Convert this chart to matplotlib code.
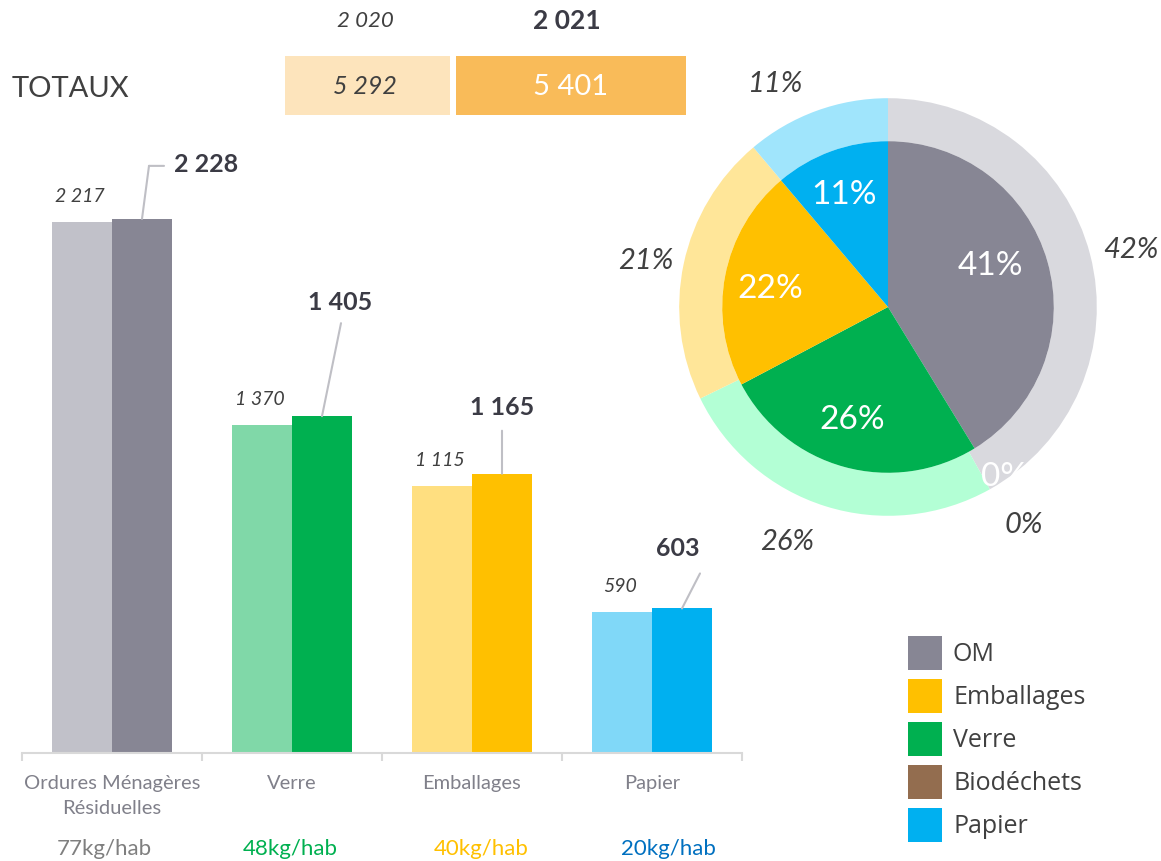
import math
import matplotlib
matplotlib.use("Agg")
import matplotlib.pyplot as plt
from matplotlib.patches import Rectangle, Patch
from matplotlib.transforms import Affine2D

plt.rcParams['font.family'] = ['Lato', 'DejaVu Sans']

# ---------------- data ----------------
categories = ["Ordures Ménagères\nRésiduelles", "Verre", "Emballages", "Papier"]
values_2020 = [2217, 1370, 1115, 590]
values_2021 = [2228, 1405, 1165, 603]
kg_hab = ["77kg/hab", "48kg/hab", "40kg/hab", "20kg/hab"]
year_labels = ["2 020", "2 021"]

pie_labels = ["OM", "Biodéchets", "Verre", "Emballages", "Papier"]
pie_2020 = [2217, 0, 1370, 1115, 590]
pie_2021 = [2228, 0, 1405, 1165, 603]
legend_labels = ["OM", "Emballages", "Verre", "Biodéchets", "Papier"]

# ---------------- styles ----------------
c_light = ["#c1c1c9", "#80d8a8", "#ffdf80", "#80d8f8"]
c_dark = ["#878694", "#00b050", "#ffc000", "#00b0f0"]
kg_colors = ["#7f7f7f", "#00b050", "#ffc000", "#0070c0"]
kg_nudge = [-8, -2, 9, 16]
pie_dark = {"OM": "#878694", "Biodéchets": "#936d4f", "Verre": "#00b050",
            "Emballages": "#ffc000", "Papier": "#00b0f0"}
pie_light = {"OM": "#d9d9de", "Biodéchets": "#c9b29f", "Verre": "#b3ffd5",
             "Emballages": "#ffe699", "Papier": "#a0e5fc"}
# label nudges in screen pixels (x right, y down)
outer_nudge = {"OM": (0, 6), "Biodéchets": (14, -1), "Verre": (-26, -4),
               "Emballages": (3, 6), "Papier": (-27, 12)}
inner_nudge = {"OM": (-9, -10), "Biodéchets": (10, -2), "Verre": (-5, 1),
               "Emballages": (-4, 4), "Papier": (-4, -3)}
txt = "#404040"
W, H = 1161, 861


def fmt(v):
    return f"{v:,}".replace(",", " ")


fig = plt.figure(figsize=(W / 100, H / 100), dpi=100)

# ---------------- bar chart ----------------
ax = fig.add_axes([22 / W, (H - 753) / H, 720 / W, (753 - 140) / H])
n = len(categories)
x = list(range(n))
bw = 1 / 3
ax.bar([i - bw / 2 for i in x], values_2020, width=bw, color=c_light, linewidth=0)
ax.bar([i + bw / 2 for i in x], values_2021, width=bw, color=c_dark, linewidth=0)
ax.set_xlim(-0.5, n - 0.5)
ax.set_ylim(0, 2557)
for s in ["top", "right", "left"]:
    ax.spines[s].set_visible(False)
ax.spines["bottom"].set_color("#d9d9d9")
ax.spines["bottom"].set_linewidth(1.5)
ax.set_yticks([])
ax.set_xticks([i - 0.5 for i in range(n + 1)])
ax.set_xticklabels([""] * (n + 1))
ax.tick_params(axis="x", which="major", length=6, width=1.5, color="#d9d9d9")
ax.set_xticks(x, minor=True)
ax.set_xticklabels(categories, minor=True, fontsize=14.5, color="#80808a",
                   linespacing=1.55)
ax.tick_params(axis="x", which="minor", length=0, pad=16)

for i, v in enumerate(values_2020):
    ax.annotate(fmt(v), xy=(i - bw / 2, v), xytext=(-2, 25),
                textcoords="offset pixels", ha="center", va="center",
                fontsize=14, style="italic", color=txt)

label_off = [(32, 54, "left"), (18, 114, "center"), (0, 66, "center"), (-4, 60, "center")]
line_off = [[(7, 53), (22, 53)], [(19, 93)], [(0, 43)], [(18, 35)]]
for i, v in enumerate(values_2021):
    dx, dy, ha = label_off[i]
    ax.annotate(fmt(v), xy=(i + bw / 2, v), xytext=(dx, dy),
                textcoords="offset pixels", ha=ha, va="center",
                fontsize=18, fontweight="bold", color="#3b3b45")
    pts = [(0, 0)] + line_off[i]
    for (x0, y0), (x1, y1) in zip(pts[:-1], pts[1:]):
        ax.annotate("", xy=(i + bw / 2, v),
                    xycoords=ax.transData + Affine2D().translate(x0, y0),
                    xytext=(x1 - x0, y1 - y0), textcoords="offset pixels",
                    arrowprops=dict(arrowstyle="-", color="#bfbfc5", lw=1.5,
                                    shrinkA=0, shrinkB=0))
for i, lab in enumerate(kg_hab):
    ax.annotate(lab, xy=(i, 0), xytext=(kg_nudge[i], -96), textcoords="offset pixels",
                ha="center", va="center", fontsize=16, color=kg_colors[i])

# ---------------- totals table ----------------
tot20 = sum(values_2020)
tot21 = sum(values_2021)
fig.text(12 / W, 1 - 89 / H, "TOTAUX", fontsize=21, color=txt, ha="left", va="center")
fig.text(365 / W, 1 - 21 / H, year_labels[0], fontsize=16, style="italic", color=txt,
         ha="center", va="center")
fig.text(567 / W, 1 - 21 / H, year_labels[1], fontsize=19, fontweight="bold", color="#3b3b45",
         ha="center", va="center")
fig.add_artist(Rectangle((285 / W, 1 - 115 / H), 165 / W, 59 / H,
                         transform=fig.transFigure, color="#fde4bc", lw=0))
fig.add_artist(Rectangle((456 / W, 1 - 115 / H), 230 / W, 59 / H,
                         transform=fig.transFigure, color="#f9bb59", lw=0))
fig.text(365 / W, 1 - 87 / H, fmt(tot20), fontsize=18, style="italic", color=txt,
         ha="center", va="center")
fig.text(571 / W, 1 - 87 / H, fmt(tot21), fontsize=21, color="white",
         ha="center", va="center")

# ---------------- donut ----------------
R = 261
pax = fig.add_axes([(888 - R) / W, (H - 307 - R) / H, 2 * R / W, 2 * R / H])
pax.set_xlim(-1.25, 1.25)
pax.set_ylim(-1.25, 1.25)
pax.set_aspect("equal")
pax.axis("off")
upp = 2.5 / (2 * R)  # data units per pixel

wedges_o, _, at_o = pax.pie(pie_2020, radius=1.0,
                            colors=[pie_light[k] for k in pie_labels],
                            startangle=90, counterclock=False,
                            wedgeprops=dict(width=0.206, linewidth=0),
                            autopct="%.0f%%", pctdistance=1.2,
                            textprops=dict(fontsize=21, style="italic", color=txt))
r_in = 0.794
wedges_i, _, at_i = pax.pie(pie_2021, radius=r_in,
                            colors=[pie_dark[k] for k in pie_labels],
                            startangle=90, counterclock=False,
                            wedgeprops=dict(linewidth=0),
                            autopct="%.0f%%", pctdistance=0.7,
                            textprops=dict(fontsize=24, color="white"))
for w, t, v in zip(wedges_i, at_i, pie_2021):
    if v == 0:
        th = math.radians((w.theta1 + w.theta2) / 2)
        t.set_position((1.22 * r_in * math.cos(th), 1.22 * r_in * math.sin(th)))
for texts, nudges in ((at_o, outer_nudge), (at_i, inner_nudge)):
    for k, t in zip(pie_labels, texts):
        px, py = t.get_position()
        dx, dy = nudges[k]
        t.set_position((px + dx * upp, py - dy * upp))

# ---------------- legend ----------------
handles = [Patch(facecolor=pie_dark[k], edgecolor="none") for k in legend_labels]
fig.legend(handles, legend_labels, loc="upper left",
           bbox_to_anchor=(908 / W, 1 - 636 / H), frameon=False,
           prop=dict(family=["Open Sans", "DejaVu Sans"], size=18),
           labelcolor=txt, handlelength=1.36, handleheight=1.715,
           handletextpad=0.44, labelspacing=0.36, borderpad=0, borderaxespad=0)

fig.savefig("out.png", dpi=100)
